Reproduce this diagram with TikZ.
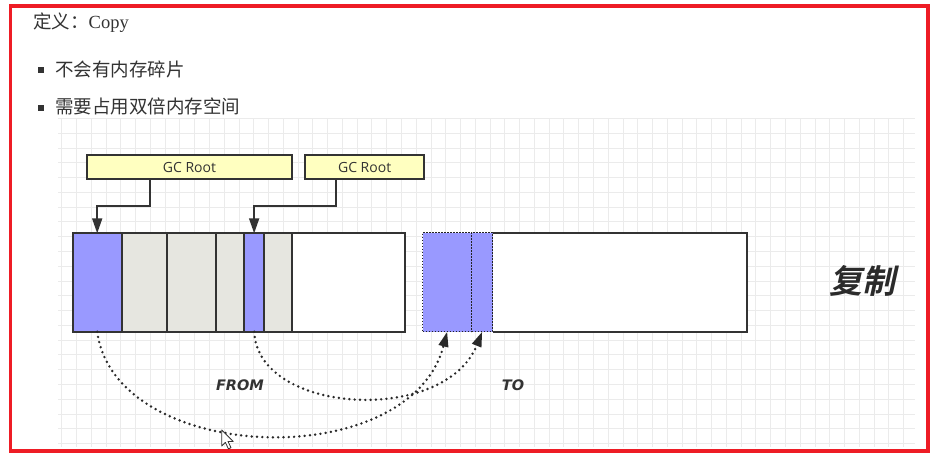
\documentclass[tikz,border=0pt]{standalone}
\usepackage{fontspec}
\setmainfont{Liberation Serif}
\newfontfamily\cjk{Noto Sans CJK SC}
\newfontfamily\cjkbi[FakeSlant=0.22]{Noto Sans CJK SC Bold}
\newfontfamily\lblfont{DejaVu Sans}
\newfontfamily\gcfont{Open Sans}
\usetikzlibrary{arrows.meta}
\definecolor{frame}{HTML}{EE1C25}
\definecolor{ink}{HTML}{333333}
\definecolor{memblue}{HTML}{9999FF}
\definecolor{memgray}{HTML}{E6E6E0}
\definecolor{gcyellow}{HTML}{FFFFC0}
\definecolor{gridc}{HTML}{EBEBEB}
\tikzset{
  seg/.style={draw=ink, line width=2pt, anchor=north west, minimum height=98.4pt,
    inner sep=0pt, outer sep=0pt},
  toseg/.style={draw=ink!70!black, line width=1.5pt, dash pattern=on 1.3pt off 1.7pt, anchor=north west,
    minimum height=99pt, inner sep=0pt, outer sep=0pt, fill=memblue},
  gcbox/.style={draw=ink, line width=1.8pt, fill=gcyellow, anchor=north west,
    minimum height=24pt, inner sep=0pt, outer sep=0pt, text=ink,
    font=\gcfont\fontsize{14}{16}\selectfont},
  gcarrow/.style={draw=ink, line width=1.8pt, -{Triangle[length=15pt,width=10pt]}},
  dotarrow/.style={draw=ink!80!black, line width=2.7pt, line cap=round, dash pattern=on 0pt off 5.3pt,
    -{Triangle[length=15pt,width=9.5pt]}},
  bulletbox/.style={fill=ink, minimum size=6pt, inner sep=0pt},
  bodytext/.style={anchor=west, inner sep=0pt, text=ink, font=\cjk\fontsize{18.5}{20}\selectfont},
  memlabel/.style={text=ink, inner sep=0pt, font=\lblfont\bfseries\itshape\fontsize{14.5}{16}\selectfont}
}
\begin{document}
\begin{tikzpicture}[x=1pt, y=-1pt]
\useasboundingbox (0,0) rectangle (943,463);
\fill[white] (0,0) rectangle (943,463);
% grid
\foreach \k in {0,...,57} \draw[gridc, line width=0.8pt] ({61.7+\k*14.77},118) -- ({61.7+\k*14.77},447);
\foreach \k in {0,...,22} \draw[gridc, line width=0.8pt] (58,{118.5+\k*14.77}) -- (915,{118.5+\k*14.77});
% frame
\draw[frame, line width=3.5pt] (10.5,6) rectangle (928,451);
% texts
\node[bodytext] (title) at (33,23) {定义：{\rmfamily Copy}};
\node[bulletbox] (b1) at (41.3,70) {};
\node[bodytext] (l1) at (55,69) {不会有内存碎片};
\node[bulletbox] (b2) at (41.3,108) {};
\node[bodytext] (l2) at (55,106) {需要占用双倍内存空间};
% FROM block
\node[seg, fill=memblue, minimum width=49pt] (f1) at (72.7,233.3) {};
\node[seg, fill=memgray, minimum width=45.6pt] (f2) at (121.7,233.3) {};
\node[seg, fill=memgray, minimum width=49pt] (f3) at (167.3,233.3) {};
\node[seg, fill=memgray, minimum width=28pt] (f4) at (216.3,233.3) {};
\node[seg, fill=memblue, minimum width=19.7pt] (f5) at (244.3,233.3) {};
\node[seg, fill=memgray, minimum width=28.3pt] (f6) at (264,233.3) {};
\node[seg, fill=white, minimum width=112.7pt] (f7) at (292.3,233.3) {};
% TO block
\node[anchor=north west, minimum width=254pt, minimum height=99pt, inner sep=0pt, outer sep=0pt, fill=white] (t3) at (492.7,232.7) {};
\draw[ink, line width=2pt] (t3.north west) -- (t3.north east) -- (t3.south east) -- (t3.south west);
\node[toseg, minimum width=49pt] (t1) at (422.7,232.7) {};
\node[toseg, minimum width=21pt] (t2) at (471.7,232.7) {};
% GC roots
\node[gcbox, minimum width=204.4pt] (g1) at (87.3,155) {GC Root};
\node[gcbox, minimum width=119.3pt] (g2) at (305,155) {GC Root};
\draw[gcarrow] ([xshift=62.7pt]g1.south west) -- ++(0,27) -| (f1.north);
\draw[gcarrow] ([xshift=31pt]g2.south west) -- ++(0,27) -| (f5.north);
% copy arcs
\draw[dotarrow] (f1.south) .. controls (115,465) and (410,475) .. (t1.south);
\draw[dotarrow] (f5.south) .. controls (258,415) and (445,425) .. (t2.south);
% labels
\node[memlabel] (from) at (240,385) {FROM};
\node[memlabel] (to) at (513,385) {TO};
\node[text=ink!85!black, inner sep=0pt, font=\cjkbi\fontsize{33}{36}\selectfont] (copy) at (862,281) {复制};
% cursor
\draw[fill=white, draw=ink, line width=0.8pt, line join=round] (221.7,430) -- ++(0,16) -- ++(3.7,-3.6) -- ++(3,6.5) -- ++(2.6,-1.2) -- ++(-3,-6.3) -- ++(5.2,0) -- cycle;
\end{tikzpicture}
\end{document}
